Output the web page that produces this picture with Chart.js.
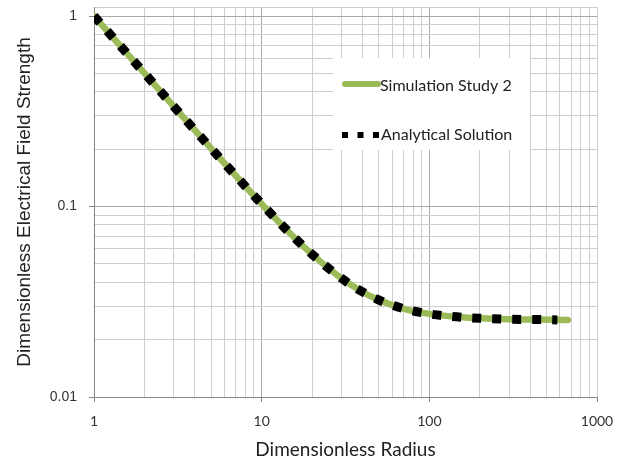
<!DOCTYPE html>
<html>
<head>
<meta charset="utf-8">
<script src="https://cdn.jsdelivr.net/npm/chart.js@4"></script>
<style>
  html, body { margin: 0; padding: 0; background: #fff; }
  #wrap { width: 632px; height: 462px; }
</style>
</head>
<body>
<div id="wrap"><canvas id="myChart" width="632" height="462"></canvas></div>
<script>
// values
const radius = [1, 1.5, 2, 3, 4, 5, 7, 10, 15, 20, 30, 40, 50, 70, 100, 150, 200, 300, 450, 670];
const simulation = [1, 0.667, 0.501, 0.334, 0.2513, 0.2016, 0.1451, 0.1032, 0.0713, 0.0561, 0.0419, 0.0356, 0.0323, 0.0291, 0.0273, 0.0263, 0.0259, 0.0256, 0.0255, 0.0254];
const analyticalRadius = [1, 1.5, 2, 3, 4, 5, 7, 10, 15, 20, 30, 40, 50, 70, 100, 150, 200, 300, 450, 580];
const analytical = [1, 0.667, 0.501, 0.334, 0.2513, 0.2016, 0.1451, 0.1032, 0.0713, 0.0561, 0.0419, 0.0356, 0.0323, 0.0291, 0.0273, 0.0263, 0.0259, 0.0256, 0.0255, 0.0254];

const xTicks = [1, 2, 3, 4, 5, 6, 7, 8, 9, 10, 20, 30, 40, 50, 60, 70, 80, 90, 100, 200, 300, 400, 500, 600, 700, 800, 900, 1000];
const yTicks = [0.01, 0.02, 0.03, 0.04, 0.05, 0.06, 0.07, 0.08, 0.09, 0.1, 0.2, 0.3, 0.4, 0.5, 0.6, 0.7, 0.8, 0.9, 1, 1.115];
const xLabels = [1, 10, 100, 1000];
const yLabels = [0.01, 0.1, 1];

const green = '#9bbb59';
const minorGrid = '#cfcfcf';
const majorGrid = '#a9a9a9';
const axisColor = '#868686';
const arial = "'Liberation Sans', Arial, sans-serif";

function pair(xs, ys) {
    return xs.map((x, i) => ({ x: x, y: ys[i] }));
}

const isMajor = (v, list) => list.some(m => Math.abs(m - v) < 1e-9);

// legend drawn inside the plot, like the original
const insideLegend = {
    id: 'insideLegend',
    afterDatasetsDraw(chart) {
        const ctx = chart.ctx;
        const ds = chart.data.datasets;
        ctx.save();
        ctx.fillStyle = '#fff';
        ctx.fillRect(333, 58, 197, 92);

        ctx.lineWidth = 6;
        ctx.lineCap = 'round';
        ctx.strokeStyle = ds[0].borderColor;
        ctx.beginPath();
        ctx.moveTo(345, 84);
        ctx.lineTo(378, 84);
        ctx.stroke();

        ctx.lineCap = 'butt';
        ctx.strokeStyle = ds[1].borderColor;
        ctx.setLineDash([6, 9.5]);
        ctx.beginPath();
        ctx.moveTo(342, 135);
        ctx.lineTo(380, 135);
        ctx.stroke();
        ctx.setLineDash([]);

        ctx.fillStyle = '#222';
        ctx.font = '16px Lato';
        ctx.textBaseline = 'middle';
        ctx.fillText(ds[0].label, 380, 86);
        ctx.fillText(ds[1].label, 381, 135);
        ctx.restore();
    }
};

Chart.defaults.font.family = 'Lato';
Chart.defaults.color = '#333';

new Chart(document.getElementById('myChart').getContext('2d'), {
    type: 'line',
    data: {
        datasets: [{
            label: 'Simulation Study 2',
            data: pair(radius, simulation),
            borderColor: green,
            borderWidth: 6.5,
            borderCapStyle: 'round',
            borderJoinStyle: 'round',
            pointRadius: 0,
            cubicInterpolationMode: 'monotone',
            order: 2
        }, {
            label: 'Analytical Solution',
            data: pair(analyticalRadius, analytical),
            borderColor: '#000',
            borderWidth: 9,
            borderDash: [9, 11],
            borderCapStyle: 'butt',
            pointRadius: 0,
            cubicInterpolationMode: 'monotone',
            order: 1
        }]
    },
    options: {
        responsive: false,
        animation: false,
        layout: { padding: { top: 7, right: 35, left: 0, bottom: 0 } },
        plugins: {
            legend: { display: false },
            tooltip: { enabled: false }
        },
        scales: {
            x: {
                type: 'logarithmic',
                min: 1,
                max: 1000,
                afterBuildTicks: s => { s.ticks = xTicks.map(v => ({ value: v })); },
                afterFit: s => { s.height = 65; s.paddingLeft = 0; s.paddingRight = 0; },
                border: { color: axisColor, width: 1 },
                grid: {
                    color: c => isMajor(c.tick.value, [10, 100]) ? majorGrid : minorGrid,
                    tickColor: c => isMajor(c.tick.value, xLabels) ? axisColor : 'rgba(0,0,0,0)',
                    tickLength: 5
                },
                ticks: {
                    autoSkip: false,
                    maxRotation: 0,
                    padding: 11,
                    font: { size: 14 },
                    callback: v => isMajor(v, xLabels) ? String(v) : ''
                },
                title: {
                    display: true,
                    text: 'Dimensionless Radius',
                    font: { size: 19 },
                    color: '#222',
                    padding: { top: 0, bottom: 1 }
                }
            },
            y: {
                type: 'logarithmic',
                min: 0.01,
                max: 1.115,
                afterBuildTicks: s => { s.ticks = yTicks.map(v => ({ value: v })); },
                afterFit: s => { s.width = 94; s.paddingTop = 0; s.paddingBottom = 0; },
                border: { color: axisColor, width: 1 },
                grid: {
                    color: c => isMajor(c.tick.value, [0.1, 1]) ? majorGrid : minorGrid,
                    tickColor: c => isMajor(c.tick.value, yLabels) ? axisColor : 'rgba(0,0,0,0)',
                    tickLength: 5
                },
                ticks: {
                    autoSkip: false,
                    padding: 12,
                    font: { family: arial, size: 14 },
                    callback: v => isMajor(v, yLabels) ? String(v) : ''
                },
                title: {
                    display: true,
                    text: 'Dimensionless Electrical Field Strength',
                    font: { family: arial, size: 19 },
                    color: '#222',
                    padding: { top: 13, bottom: 0 }
                }
            }
        }
    },
    plugins: [insideLegend]
});
</script>
</body>
</html>
